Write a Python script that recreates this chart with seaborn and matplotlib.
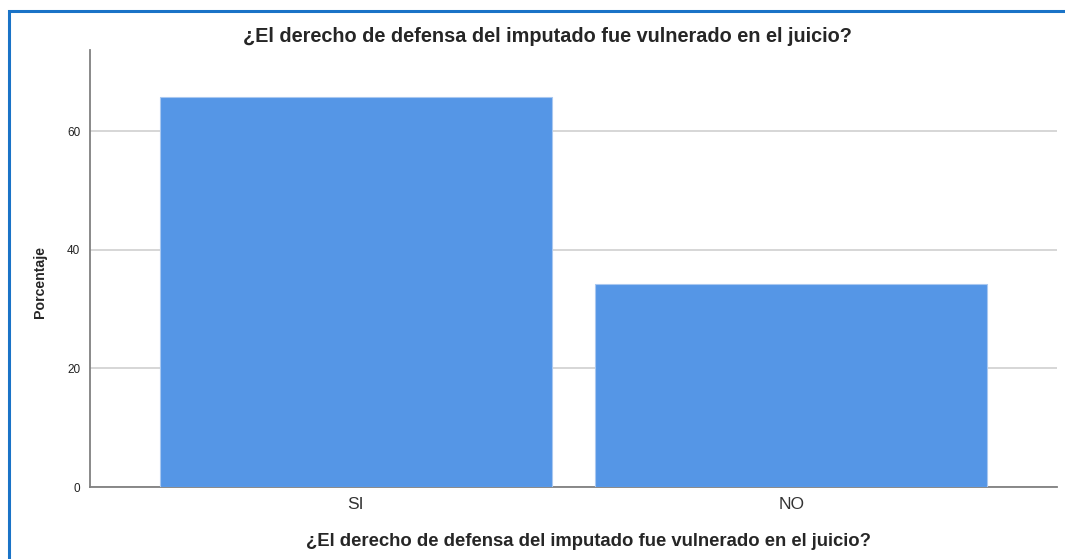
import matplotlib
matplotlib.use("Agg")
import matplotlib.pyplot as plt
import seaborn as sns
import pandas as pd
from matplotlib.patches import Rectangle

categories = ["SI", "NO"]
percentages = [65.7, 34.3]
y_ticks = [0, 20, 40, 60]
title = "¿El derecho de defensa del imputado fue vulnerado en el juicio?"

df = pd.DataFrame({"cat": categories, "pct": percentages})

sns.set_style("white")
plt.rcParams['font.family'] = ['Liberation Sans', 'DejaVu Sans']

W, H = 1065, 559
fig = plt.figure(figsize=(W / 100, H / 100), dpi=100)
ax = fig.add_axes([90 / W, 1 - 487 / H, (1057 - 90) / W, (487 - 50) / H])

sns.barplot(data=df, x="cat", y="pct", color="#5596E6", width=0.9,
            saturation=1, edgecolor="#a9c8f0", linewidth=0.8, ax=ax, zorder=3)

ax.set_ylim(0, 73.7)
ax.set_xlim(-0.61, 1.61)
ax.set_yticks(y_ticks)
ax.yaxis.grid(True, color="#cfcfcf", linewidth=1.2, zorder=0)
ax.set_axisbelow(True)
for s in ["top", "right"]:
    ax.spines[s].set_visible(False)
for s in ["left", "bottom"]:
    ax.spines[s].set_color("#808080")
    ax.spines[s].set_linewidth(1.3)
ax.tick_params(axis="y", length=0, labelsize=8.5, pad=7, labelcolor="#222222")
ax.tick_params(axis="x", length=0, labelsize=12.5, pad=7, labelcolor="#333333")
ax.set_xlabel("")
ax.set_ylabel("")

fig.text(547 / W, 1 - 37 / H, title, ha="center", va="center",
         fontsize=14.3, fontweight="bold")
fig.text(588 / W, 1 - 541 / H, title, ha="center", va="center",
         fontsize=13.3, fontweight="bold")
fig.text(40 / W, 1 - 282 / H, "Porcentaje", ha="center", va="center",
         rotation=90, fontsize=10.2, fontweight="bold")

fig.patches.append(Rectangle((8.5 / W, -0.1), 1.2, 1 - 11.5 / H + 0.1,
                             transform=fig.transFigure, fill=False,
                             edgecolor="#1a73c7", linewidth=2.2))

fig.savefig("out.png", dpi=100)
